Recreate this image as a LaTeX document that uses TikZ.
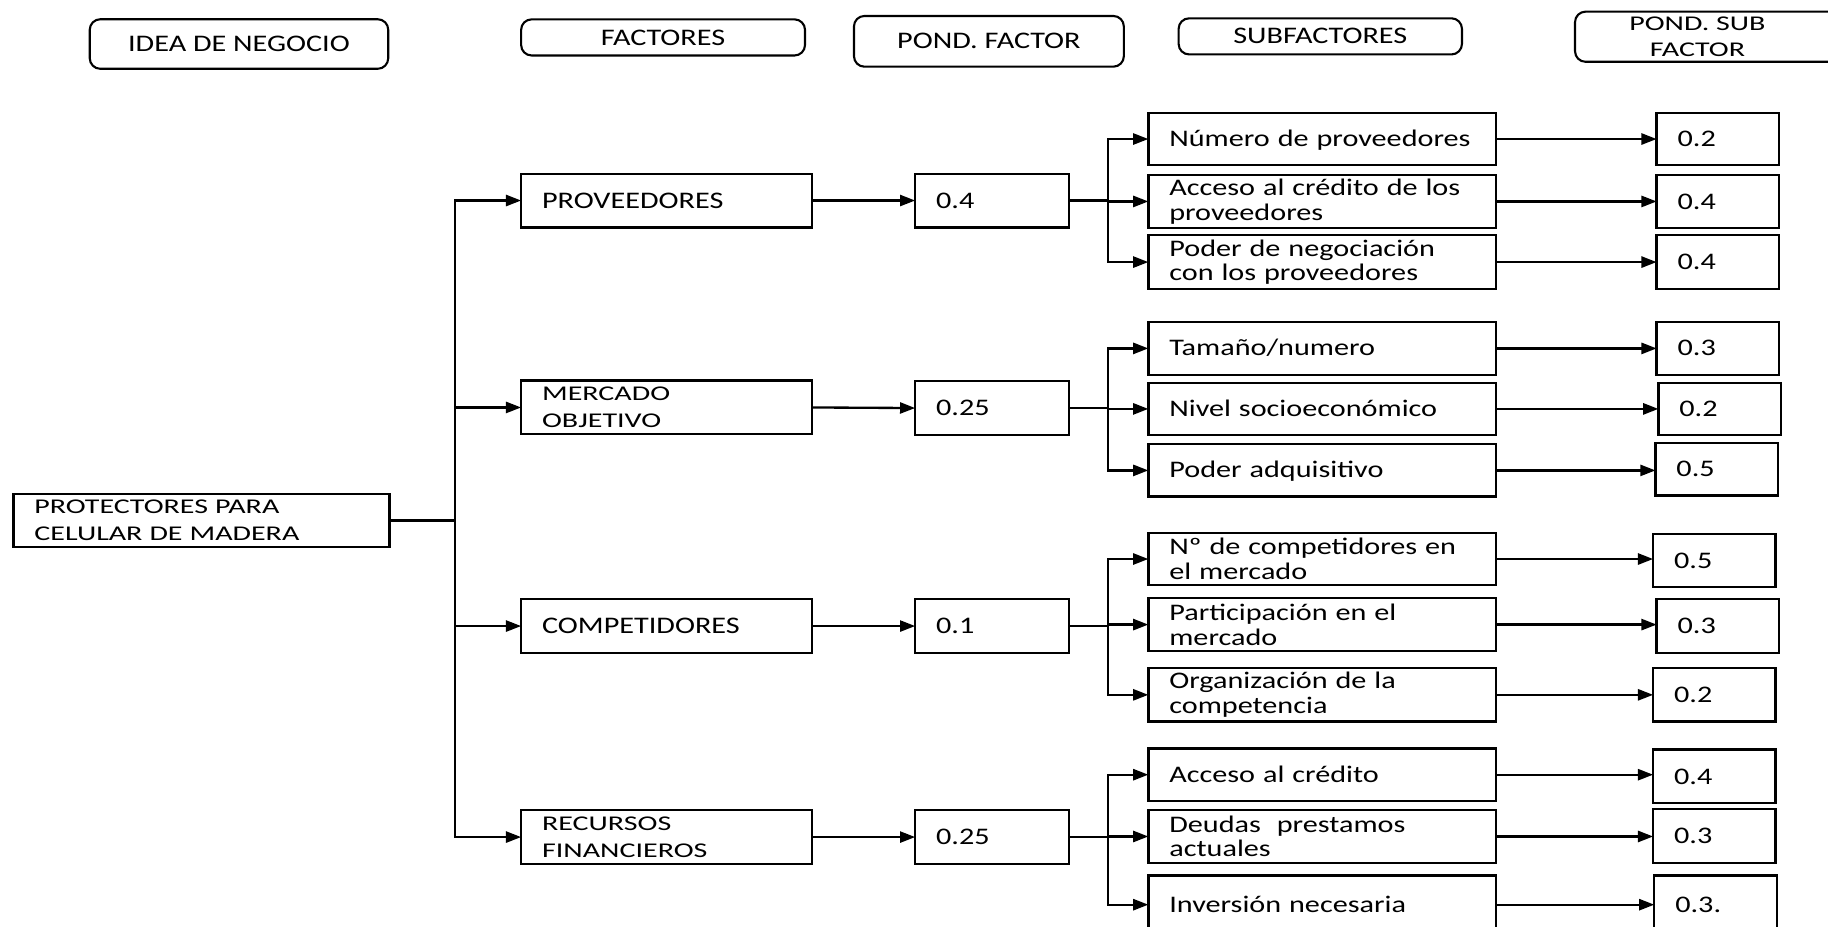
\documentclass[tikz,border=0pt]{standalone}
\usepackage{fontspec}
\setmainfont{Carlito}
\newfontfamily\bodyfont{Carlito}[FakeStretch=1.27]
\newfontfamily\capsfont{Carlito}[FakeStretch=1.43]
\usetikzlibrary{arrows.meta}
\begin{document}
\begin{tikzpicture}[x=1pt,y=-1pt,
  every node/.style={inner sep=0pt, outer sep=0pt},
  cell/.style={draw, line width=2pt, rectangle, anchor=north west, align=left, inner xsep=18pt, inner ysep=0pt},
  factcol/.style={cell, minimum width=249.5pt, text width=213.5pt},
  pondcol/.style={cell, minimum width=132pt, text width=96pt},
  subcol/.style={cell, minimum width=298pt, text width=262pt},
  psubcol/.style={cell, minimum width=105pt, text width=69pt},
  body/.style={font=\bodyfont\fontsize{20.4}{21}\selectfont},
  caps/.style={font=\capsfont\fontsize{18}{23}\selectfont},
  single/.style={body, text height=13pt, text depth=0pt},
  head/.style={draw, line width=1.8pt, rounded corners=9pt, anchor=north west, align=center, inner sep=0pt},
  link/.style={line width=2pt, -{Triangle[length=13pt,width=9.5pt]}}
]
\useasboundingbox (0,0) rectangle (1568,795);
\fill[white] (0,0) rectangle (1568,795);

% column headings
\node[head, single, minimum width=256pt, minimum height=42.5pt] (hidea) at (77,16.5) {IDEA DE NEGOCIO};
\node[head, single, minimum width=243.5pt, minimum height=31pt] (hfact) at (447,16.6) {FACTORES};
\node[head, single, minimum width=231.5pt, minimum height=43.5pt] (hpond) at (732.5,13.7) {POND. FACTOR};
\node[head, single, minimum width=243pt, minimum height=31pt] (hsub) at (1011,15.7) {SUBFACTORES};
\node[head, caps, minimum width=232pt, minimum height=43pt] (hpsub) at (1351,10) {POND. SUB\hspace*{22pt}\\FACTOR\hspace*{22pt}};

% business idea
\node[cell, caps, minimum width=322.5pt, minimum height=45pt, text width=286.5pt] (root) at (11.5,424) {PROTECTORES PARA\\CELULAR DE MADERA};

% factors
\node[factcol, single, minimum height=46pt] (f1) at (447,149) {PROVEEDORES};
\node[factcol, caps, minimum height=46pt] (f2) at (447,326.5) {MERCADO\\OBJETIVO};
\node[factcol, single, minimum height=46pt] (f3) at (447,514) {COMPETIDORES};
\node[factcol, caps, minimum height=46pt] (f4) at (447,695) {RECURSOS\\FINANCIEROS};

% factor weights
\node[pondcol, single, minimum height=46pt] (p1) at (785,149) {0.4};
\node[pondcol, single, minimum height=46pt] (p2) at (785,327) {0.25};
\node[pondcol, single, minimum height=46pt] (p3) at (785,514) {0.1};
\node[pondcol, single, minimum height=46pt] (p4) at (785,695) {0.25};

% subfactors
\node[subcol, single, minimum height=44.5pt] (s11) at (985,97) {Número de proveedores};
\node[subcol, body, minimum height=45.6pt] (s12) at (985,150) {Acceso al crédito de los\\proveedores};
\node[subcol, body, minimum height=46.4pt] (s13) at (985,201.6) {Poder de negociación\\con los proveedores};
\node[subcol, single, minimum height=45.7pt] (s21) at (985,276) {Tamaño/numero};
\node[subcol, single, minimum height=44.5pt] (s22) at (985,328.5) {Nivel socioeconómico};
\node[subcol, single, minimum height=45pt] (s23) at (985,381) {Poder adquisitivo};
\node[subcol, body, minimum height=45pt] (s31) at (985,457) {Nº de competidores en\\el mercado};
\node[subcol, body, minimum height=45.5pt] (s32) at (985,513) {Participación en el\\mercado};
\node[subcol, body, minimum height=46pt] (s33) at (985,573) {Organización de la\\competencia};
\node[subcol, single, minimum height=45pt] (s41) at (985,642) {Acceso al crédito};
\node[subcol, body, minimum height=45pt] (s42) at (985,695) {Deudas~~prestamos\\actuales};
\node[subcol, single, minimum height=50pt] (s43) at (985,751) {Inversión necesaria};

% subfactor weights
\node[psubcol, single, minimum height=44.5pt] (w11) at (1421,97) {0.2};
\node[psubcol, single, minimum height=45.6pt] (w12) at (1421,150) {0.4};
\node[psubcol, single, minimum height=46.4pt] (w13) at (1421,201.6) {0.4};
\node[psubcol, single, minimum height=45.7pt] (w21) at (1421,276) {0.3};
\node[psubcol, single, minimum height=44.5pt] (w22) at (1422.5,328.5) {0.2};
\node[psubcol, single, minimum height=45pt] (w23) at (1420,380) {0.5};
\node[psubcol, single, minimum height=45.5pt] (w31) at (1418,458) {0.5};
\node[psubcol, single, minimum height=46pt] (w32) at (1421,514) {0.3};
\node[psubcol, single, minimum height=46pt] (w33) at (1418,573) {0.2};
\node[psubcol, single, minimum height=46pt] (w41) at (1418,643) {0.4};
\node[psubcol, single, minimum height=46pt] (w42) at (1418,694) {0.3};
\node[psubcol, single, minimum height=50pt] (w43) at (1419,751) {0.3.};

% idea -> factors
\foreach \f in {f1,f2,f3,f4}
  \draw[link] (root.east) -- ++(56,0) |- (\f.west);

% factors -> weights
\foreach \f/\p in {f1/p1,f2/p2,f3/p3,f4/p4}
  \draw[link] (\f.east) -- (\p.west);

% weights -> subfactors
\foreach \p/\g in {p1/1,p2/2,p3/3,p4/4}
  \foreach \k in {1,2,3}
    \draw[link] (\p.east) -- ++(33.5,0) |- (s\g\k.west);

% subfactors -> subfactor weights
\foreach \g in {1,2,3,4}
  \foreach \k in {1,2,3}
    \draw[link] (s\g\k.east) -- (s\g\k.east -| w\g\k.west);
\end{tikzpicture}
\end{document}
